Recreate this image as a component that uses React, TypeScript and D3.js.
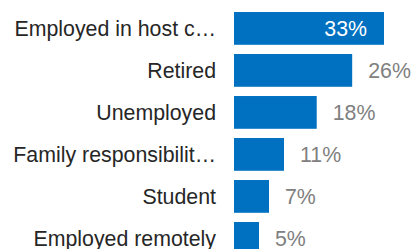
import React, { useEffect, useRef } from "react";
import * as d3 from "d3";

const categories = [
  "Employed in host country",
  "Retired",
  "Unemployed",
  "Family responsibilities",
  "Student",
  "Employed remotely",
];
const shares = [33, 26, 18.2, 11, 7.7, 5.5];

const W = 411;
const H = 249;

const App: React.FC = () => {
  const svgRef = useRef<any>();

  useEffect(() => {
    const svg = d3.select(svgRef.current);
    svg.selectAll("*").remove();

    const data = categories.map((name, i) => ({ name, value: shares[i] }));
    const left = 234;
    const labelMax = 205;
    const font = "'Liberation Sans', Arial, sans-serif";

    const x = d3
      .scaleLinear()
      .domain([0, d3.max(shares) as number])
      .range([left, left + 150]);

    const y = d3
      .scaleBand()
      .domain(categories)
      .range([7.4, 259.4])
      .paddingInner(0.22)
      .paddingOuter(0.11);

    svg
      .append("g")
      .attr("fill", "#0070c0")
      .selectAll()
      .data(data)
      .join("rect")
      .attr("x", x(0))
      .attr("y", (d) => y(d.name)!)
      .attr("width", (d) => x(d.value) - x(0))
      .attr("height", y.bandwidth());

    // category labels, cut with an ellipsis when too long
    svg
      .append("g")
      .attr("text-anchor", "end")
      .attr("fill", "#262626")
      .style("font", `21.33px ${font}`)
      .selectAll()
      .data(data)
      .join("text")
      .attr("x", left - 18)
      .attr("y", (d) => y(d.name)! + y.bandwidth() / 2)
      .attr("dy", "0.35em")
      .text((d) => d.name)
      .each(function (d) {
        const node = this as SVGTextElement;
        if (node.getComputedTextLength() <= labelMax) return;
        let s = d.name;
        while (s.length > 1) {
          s = s.slice(0, -1);
          node.textContent = s.trimEnd() + "…";
          if (node.getComputedTextLength() <= labelMax) break;
        }
      });

    // value labels: outside the bar, or inside when they do not fit
    svg
      .append("g")
      .style("font", `21.33px ${font}`)
      .selectAll()
      .data(data)
      .join("text")
      .attr("y", (d) => y(d.name)! + y.bandwidth() / 2)
      .attr("dy", "0.35em")
      .text((d) => `${Math.floor(d.value)}%`)
      .each(function (d) {
        const node = d3.select(this);
        const w = (this as SVGTextElement).getComputedTextLength();
        const end = x(d.value);
        if (end + 16 + w > W) {
          node.attr("x", end - 17).attr("text-anchor", "end").attr("fill", "#ffffff");
        } else {
          node.attr("x", end + 16).attr("text-anchor", "start").attr("fill", "#808080");
        }
      });
  }, []);

  return (
    <svg
      ref={svgRef}
      width={W}
      height={H}
      style={{ position: "absolute", left: 0, top: 0, background: "#fff" }}
    ></svg>
  );
};

export default App;
